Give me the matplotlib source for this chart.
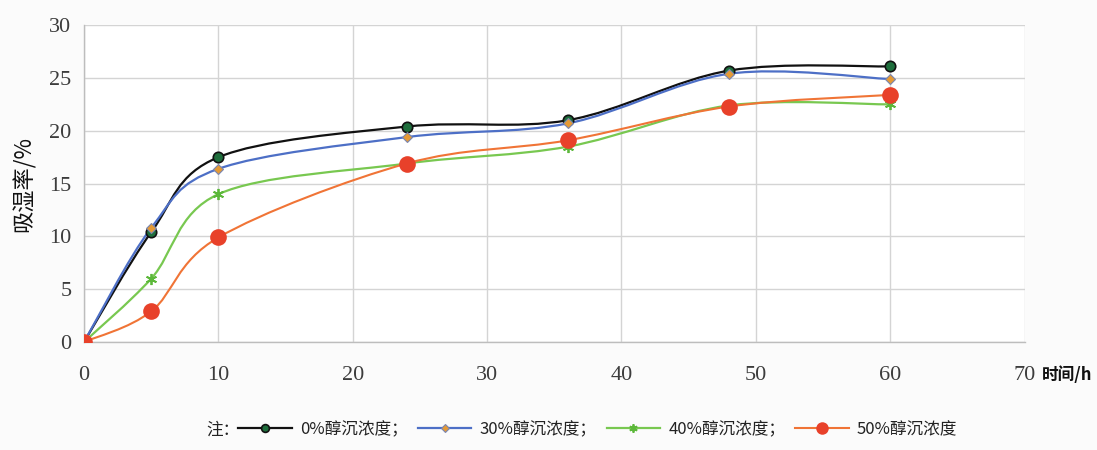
import numpy as np
import matplotlib
matplotlib.use("Agg")
import matplotlib.pyplot as plt
from matplotlib.path import Path
from matplotlib.patches import PathPatch
from matplotlib.lines import Line2D

plt.rcParams['font.family'] = ['Noto Sans CJK SC', 'DejaVu Sans']

# Time (h) and moisture absorption (%) for each ethanol precipitation concentration
hours = [0, 5, 10, 24, 36, 48, 60]
conc_0 = [0, 10.4, 17.5, 20.4, 21.0, 25.7, 26.1]
conc_30 = [0, 10.8, 16.4, 19.4, 20.7, 25.4, 24.9]
conc_40 = [0, 6.0, 14.0, 16.9, 18.5, 22.4, 22.5]
conc_50 = [0, 2.9, 9.9, 16.9, 19.1, 22.3, 23.4]
labels = ['0%醇沉浓度；', '30%醇沉浓度；', '40%醇沉浓度；', '50%醇沉浓度']
x_ticks = [0, 10, 20, 30, 40, 50, 60, 70]
y_ticks = [0, 5, 10, 15, 20, 25, 30]


def smooth_path(x, y):
    """Bezier path through the points, spreadsheet-style smoothing."""
    pts = np.column_stack([x, y]).astype(float)
    n = len(pts)
    verts = [pts[0]]
    codes = [Path.MOVETO]
    for i in range(n - 1):
        p0 = pts[i - 1] if i > 0 else pts[i]
        p1 = pts[i]
        p2 = pts[i + 1]
        p3 = pts[i + 2] if i + 2 < n else pts[i + 1]
        c1 = p1 + (p2 - p0) / 6.0
        c2 = p2 - (p3 - p1) / 6.0
        verts += [c1, c2, p2]
        codes += [Path.CURVE4] * 3
    return Path(verts, codes)


fig = plt.figure(figsize=(10.97, 4.5), dpi=100)
fig.patch.set_facecolor('#fbfbfb')
ax = fig.add_axes([0.0766, 0.24, 0.8574, 0.704])
ax.set_facecolor('white')

series = [
    (conc_0, dict(color='#111111', lw=1.6),
     dict(marker='o', ms=7.5, mfc='#1e6e3c', mec='#111111', mew=1.2)),
    (conc_30, dict(color='#4d6fc6', lw=1.6),
     dict(marker='D', ms=5, mfc='#e59a35', mec='#7a86b0', mew=0.8)),
    (conc_40, dict(color='#78c850', lw=1.6),
     dict(marker=(6, 2, 0), ms=8, mfc='#5cb83a', mec='#5cb83a', mew=1.3)),
    (conc_50, dict(color='#f07436', lw=1.5),
     dict(marker='o', ms=12, mfc='#e8412a', mec='#e8412a', mew=0)),
]

handles = []
for vals, lstyle, mstyle in series:
    patch = PathPatch(smooth_path(hours, vals), facecolor='none',
                      edgecolor=lstyle['color'], lw=lstyle['lw'], zorder=3,
                      capstyle='round', joinstyle='round')
    ax.add_patch(patch)
    ax.plot(hours, vals, ls='none', zorder=4, **mstyle)
    leg_ms = dict(mstyle)
    leg_ms['ms'] = mstyle['ms'] * 0.75
    handles.append(Line2D([], [], color=lstyle['color'], lw=lstyle['lw'], **leg_ms))

ax.set_xlim(0, 70)
ax.set_ylim(0, 30)
ax.set_xticks(x_ticks)
ax.set_yticks(y_ticks)
ax.grid(True, color='#d4d4d4', lw=1.0)
ax.set_axisbelow(True)
for side in ['top', 'right']:
    ax.spines[side].set_visible(False)
for side in ['left', 'bottom']:
    ax.spines[side].set_color('#bdbdbd')
    ax.spines[side].set_linewidth(1.0)
ax.tick_params(length=0, labelsize=16, labelcolor='#3c3c3c')
ax.tick_params(axis='x', pad=17)
ax.tick_params(axis='y', pad=9)
for t in ax.get_xticklabels() + ax.get_yticklabels():
    t.set_family(['Liberation Serif', 'DejaVu Serif'])

ax.set_ylabel('吸湿率/%', fontsize=16, color='#111111', labelpad=10,
              fontweight='medium')
fig.text(1042 / 1097, 1 - 375 / 450, '时间/h', fontsize=12, color='#111111',
         ha='left', va='center', fontweight='bold')

leg = fig.legend(handles, labels, loc='center', bbox_to_anchor=(0.545, 0.045),
                 ncol=4, frameon=False, fontsize=12, handlelength=3.2,
                 handletextpad=0.5, columnspacing=0.6)
for t in leg.get_texts():
    t.set_color('#222222')
fig.text(0.188, 0.045, '注：', fontsize=12, color='#222222', ha='left', va='center')

fig.savefig('out.png', dpi=100, facecolor=fig.get_facecolor())
